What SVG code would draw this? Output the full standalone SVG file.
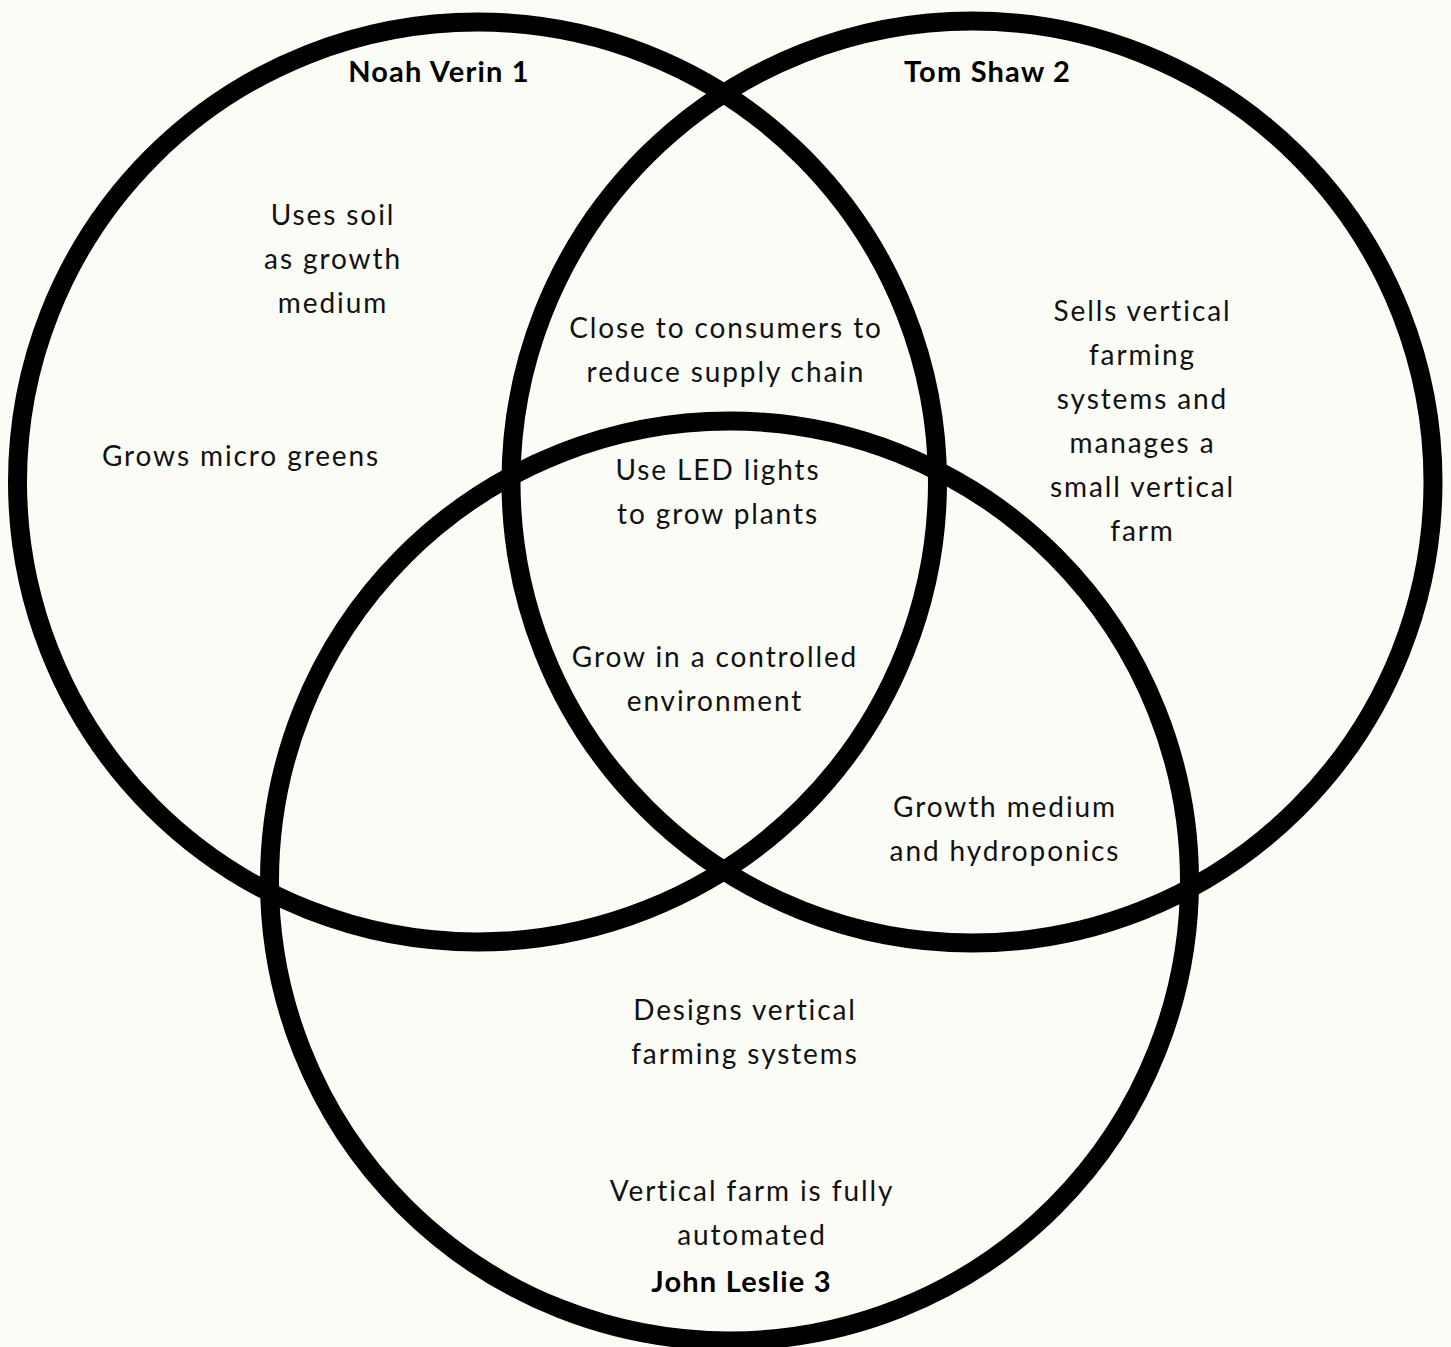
<svg xmlns="http://www.w3.org/2000/svg" width="1451" height="1347" viewBox="0 0 1451 1347">
  <style>
    .ring { fill: none; stroke: #000000; stroke-width: 19; }
    .t { font-family: Lato, "Open Sans", "Liberation Sans", sans-serif; font-size: 28px; letter-spacing: 1.9px; fill: #111111; text-anchor: middle; }
    .b { font-family: Lato, "Open Sans", "Liberation Sans", sans-serif; font-size: 29px; letter-spacing: 1.2px; font-weight: 700; fill: #000000; text-anchor: middle; }
  </style>
  <rect x="0" y="0" width="1451" height="1347" fill="#fcfcf7"/>
  <g id="connectors"></g>
  <g id="circle-noah">
    <circle class="ring" cx="477.5" cy="482" r="460"/>
    <text class="b" x="439" y="82">Noah Verin 1</text>
  </g>
  <g id="circle-tom">
    <circle class="ring" cx="972" cy="482" r="461"/>
    <text class="b" x="987.5" y="82">Tom Shaw 2</text>
  </g>
  <g id="circle-john">
    <circle class="ring" cx="729.5" cy="881" r="460"/>
    <text class="b" x="741.5" y="1292">John Leslie 3</text>
  </g>
  <g id="noah-only">
    <text class="t" x="333" y="225">Uses soil</text>
    <text class="t" x="333" y="269">as growth</text>
    <text class="t" x="333" y="313">medium</text>
    <text class="t" x="241" y="466">Grows micro greens</text>
  </g>
  <g id="tom-only">
    <text class="t" x="1142.5" y="321">Sells vertical</text>
    <text class="t" x="1142.5" y="365">farming</text>
    <text class="t" x="1142.5" y="409">systems and</text>
    <text class="t" x="1142.5" y="453">manages a</text>
    <text class="t" x="1142.5" y="497">small vertical</text>
    <text class="t" x="1142.5" y="541">farm</text>
  </g>
  <g id="noah-tom">
    <text class="t" x="726" y="338">Close to consumers to</text>
    <text class="t" x="726" y="382">reduce supply chain</text>
  </g>
  <g id="all-three">
    <text class="t" x="718" y="480">Use LED lights</text>
    <text class="t" x="718" y="524">to grow plants</text>
    <text class="t" x="715" y="667">Grow in a controlled</text>
    <text class="t" x="715" y="711">environment</text>
  </g>
  <g id="tom-john">
    <text class="t" x="1005" y="817">Growth medium</text>
    <text class="t" x="1005" y="861">and hydroponics</text>
  </g>
  <g id="john-only">
    <text class="t" x="745" y="1020">Designs vertical</text>
    <text class="t" x="745" y="1064">farming systems</text>
    <text class="t" x="752" y="1201">Vertical farm is fully</text>
    <text class="t" x="752" y="1245">automated</text>
  </g>
</svg>
